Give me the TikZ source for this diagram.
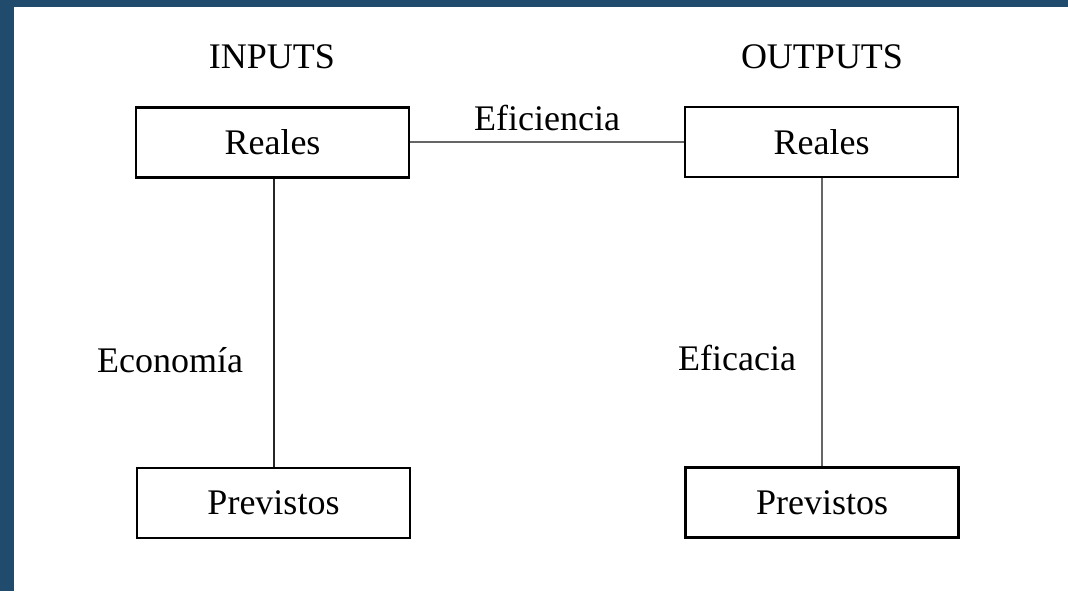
\documentclass[tikz,border=0pt]{standalone}
\usepackage{fontspec}
\setmainfont{Liberation Serif}
\definecolor{frameblue}{HTML}{204B6C}
\tikzset{
  caja/.style={draw, line width=1.4pt, minimum width=136.5pt, minimum height=35pt, inner sep=0pt, fill=white},
  rotulo/.style={inner sep=1pt, font=\fontsize{18}{21}\selectfont},
}
\begin{document}
\begin{tikzpicture}[x=0.5pt, y=-0.5pt]
      \fill[frameblue] (0,0) rectangle (1068,591);
      \fill[white] (14,7) rectangle (1068,591);
      \useasboundingbox (0,0) rectangle (1068,591);
      \draw
        (272,57) node[rotulo] (inputs){INPUTS}
        (822,57) node[rotulo] (outputs){OUTPUTS}
        (547,118) node[rotulo] (eficiencia){Eficiencia}
        (170,360) node[rotulo] (economia){Economía}
        (737,358) node[rotulo] (eficacia){Eficacia};
      \begin{scope}[-, line width=1.3pt]
        \draw[black!85] (274,142) -- (274,503);
        \draw[black!60] (822,142) -- (822,503);
        \draw[black!60] (409,142) -- (685,142);
      \end{scope}
      \draw
        (272.5,142.5) node[caja,rotulo] (realesIn){Reales}
        (821.5,142) node[caja,rotulo] (realesOut){Reales}
        (273.5,503) node[caja,rotulo] (previstosIn){Previstos}
        (822,502.5) node[caja,rotulo] (previstosOut){Previstos};
    \end{tikzpicture}
\end{document}
